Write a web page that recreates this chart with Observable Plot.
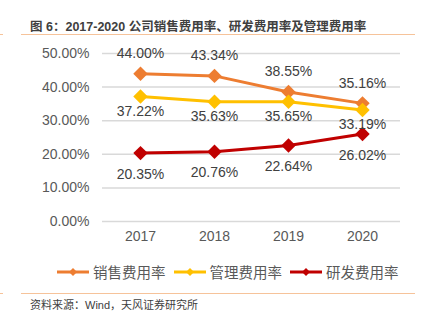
<!DOCTYPE html>
<html><head><meta charset="utf-8">
<script src="https://cdn.jsdelivr.net/npm/d3@7"></script>
<script src="https://cdn.jsdelivr.net/npm/@observablehq/plot@0.6"></script>
<style>
body{margin:0;width:425px;height:322px;background:#fff;position:relative;overflow:hidden;font-family:"Liberation Sans","Noto Sans CJK SC",sans-serif;}
#title{position:absolute;left:30px;top:16px;font-size:12.5px;font-weight:bold;color:#404040;font-family:"Liberation Sans","Noto Sans CJK SC",sans-serif;white-space:nowrap;}
.rule{position:absolute;left:21px;width:394px;height:1px;background:#f6c39a;}
.tick{position:absolute;left:0;width:3px;height:1px;background:#f6c39a;}
#chart{position:absolute;left:0;top:40px;}
#legend{position:absolute;left:56px;top:261px;display:flex;gap:7px;font-size:14.5px;color:#595959;}
#legend .it{display:flex;align-items:center;gap:3px;white-space:nowrap;}
#src{position:absolute;left:30px;top:296px;font-size:11px;color:#404040;white-space:nowrap;}
</style></head><body>
<div id="title">图 6：2017-2020 公司销售费用率、研发费用率及管理费用率</div>
<div class="tick" style="top:34px"></div>
<div class="rule" style="top:34px"></div>
<div id="chart"></div>
<div id="legend"></div>
<div class="tick" style="top:293px"></div>
<div class="rule" style="top:293px"></div>
<div id="src">资料来源：Wind，天风证券研究所</div>
<script>
const years = ["2017","2018","2019","2020"];
const seriesNames = ["销售费用率","管理费用率","研发费用率"];
const seriesColors = ["#ED7D31","#FFC000","#C00000"];
const sales = [44.00, 43.34, 38.55, 35.16];
const admin = [37.22, 35.63, 35.65, 33.19];
const rnd = [20.35, 20.76, 22.64, 26.02];
const yTicks = [0,10,20,30,40,50];

const rows = [];
[sales, admin, rnd].forEach((arr, si) => arr.forEach((v, i) => rows.push({year: years[i], value: v, series: seriesNames[si]})));
const labelDy = {"销售费用率": -20, "管理费用率": 15, "研发费用率": 21};

const font = '"Liberation Sans","Noto Sans CJK SC",sans-serif';
const chart = Plot.plot({
  width: 425, height: 215,
  marginLeft: 102, marginRight: 25, marginTop: 13, marginBottom: 34,
  style: {fontFamily: font, fontSize: "14px", color: "#595959", background: "transparent"},
  x: {type: "point", domain: years, padding: 0.5, label: null, tickSize: 0, tickPadding: 10},
  y: {domain: [0, 50], ticks: yTicks, tickFormat: d => d.toFixed(2) + "%", label: null, tickSize: 0, tickPadding: 13},
  color: {domain: seriesNames, range: seriesColors},
  marks: [
    Plot.gridY(yTicks, {stroke: "#d9d9d9", strokeOpacity: 1, strokeWidth: 1.5}),
    Plot.line(rows, {x: "year", y: "value", z: "series", stroke: "series", strokeWidth: 3}),
    Plot.dot(rows, {x: "year", y: "value", fill: "series", symbol: "diamond2", r: 6.5, stroke: null}),
    ...seriesNames.map(s => Plot.text(rows.filter(d => d.series === s), {
      x: "year", y: "value", text: d => d.value.toFixed(2) + "%", dy: labelDy[s], fill: "#404040", fontSize: 14
    }))
  ]
});
document.getElementById("chart").appendChild(chart);

const lg = document.getElementById("legend");
seriesNames.forEach((n, i) => {
  const it = document.createElement("div"); it.className = "it";
  it.innerHTML = `<svg width="34" height="10"><line x1="1" y1="5" x2="33" y2="5" stroke="${seriesColors[i]}" stroke-width="3"/><path d="M17,1 L21,5 L17,9 L13,5Z" fill="${seriesColors[i]}"/></svg><span>${n}</span>`;
  lg.appendChild(it);
});
</script>
</body></html>
